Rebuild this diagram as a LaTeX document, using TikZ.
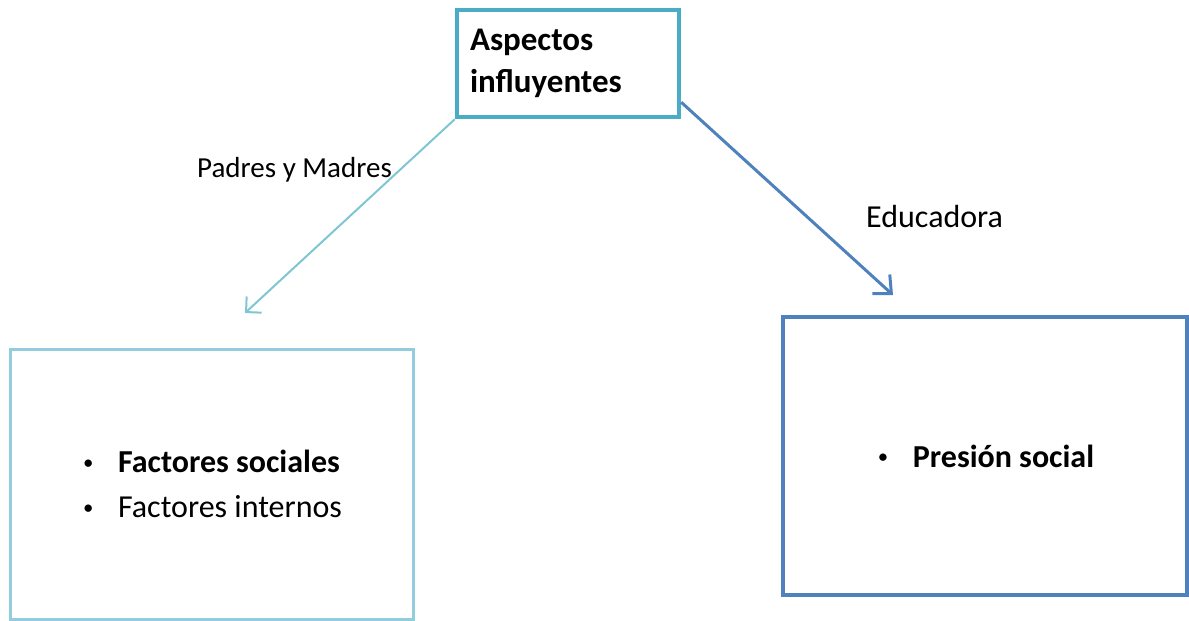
\documentclass[tikz,border=0pt]{standalone}
\usepackage{fontspec}
\setmainfont{Carlito}
\usetikzlibrary{arrows.meta}

\definecolor{tealbox}{HTML}{4BACC6}
\definecolor{lightbox}{HTML}{93CDDD}
\definecolor{bluebox}{HTML}{4F81BD}
\definecolor{lightarrow}{HTML}{7FC6D3}

\newcommand{\vineta}{\makebox[37pt][l]{\hspace{2pt}\raisebox{3.5pt}{\scalebox{0.65}{\textbullet}}}}

\tikzset{
  caja/.style={draw, rectangle, inner sep=0pt, text=black},
  etiqueta/.style={anchor=base west, inner sep=0pt, text=black},
  punto/.style={font=\fontsize{32}{45}\selectfont, align=left},
}

\begin{document}
\begin{tikzpicture}[x=1pt, y=1pt]
\useasboundingbox (0,0) rectangle (1189,-621);
% Cajas
\node[caja, draw=tealbox, line width=4.5pt, minimum width=222pt, minimum height=107pt,
      text width=196pt, align=left, font=\bfseries\fontsize{33}{42}\selectfont]
      (aspectos) at (568,-63.5) {Aspectos\\influyentes};
\node[caja, punto, draw=lightbox, line width=3pt, minimum width=403pt, minimum height=270pt]
      (sociales) at (211.5,-484)
      {\vineta\textbf{Factores sociales}\\
       \vineta Factores internos};
\node[caja, punto, draw=bluebox, line width=3.5pt, minimum width=404pt, minimum height=278pt]
      (presion) at (985,-456)
      {\vineta\textbf{Presión social}};
% Flechas
\coordinate (puntaIzq) at (245,-313);
\coordinate (puntaDer) at (893,-295);
\draw[-{Straight Barb[length=11pt,width=22pt]}, lightarrow, line width=2pt]
      (aspectos.south west) -- (puntaIzq);
\draw[-{Straight Barb[length=14pt,width=26pt]}, bluebox, line width=3pt]
      ([yshift=17pt]aspectos.south east) -- (puntaDer);
% Texto
\node[etiqueta, font=\fontsize{29}{35}\selectfont] (padres) at (197,-177) {Padres y Madres};
\node[etiqueta, font=\fontsize{32}{38}\selectfont] (educadora) at (866,-227) {Educadora};
\end{tikzpicture}
\end{document}
